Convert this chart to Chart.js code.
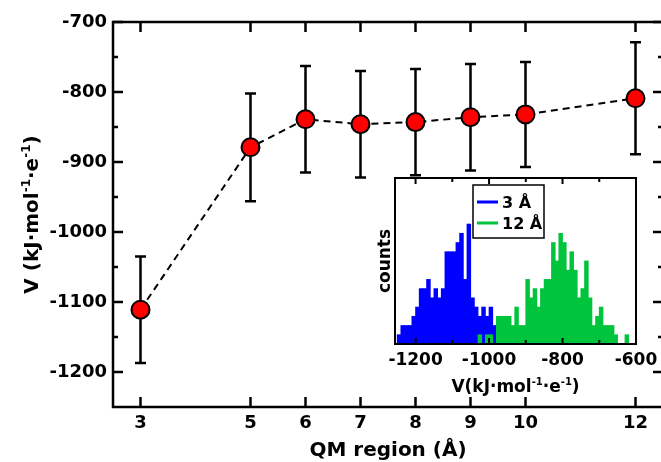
<!DOCTYPE html>
<html>
<head>
<meta charset="utf-8">
<script src="https://cdn.jsdelivr.net/npm/chart.js@4.4.0/dist/chart.umd.min.js"></script>
<style>
  html, body { margin: 0; padding: 0; background: #fff; overflow: hidden; }
  #wrap { position: relative; width: 661px; height: 462px; overflow: hidden; }
  #mainChart { position: absolute; left: 0; top: 0; }
  #insetChart { position: absolute; left: 365px; top: 172px; }
</style>
</head>
<body>
<div id="wrap">
  <canvas id="mainChart" width="674" height="462"></canvas>
  <canvas id="insetChart" width="300" height="228"></canvas>
</div>
<script>
// QM region radius (Å) against the averaged potential and its spread
const qmRegion = [3, 5, 6, 7, 8, 9, 10, 12];
const potential = [-1111, -879, -839, -846, -843, -836, -832, -809];
const potentialErr = [76, 77, 76, 76, 76, 76, 75, 80];
const xTicks = [3, 5, 6, 7, 8, 9, 10, 12];
const yTicks = [-700, -800, -900, -1000, -1100, -1200];
const yMinorTicks = [-750, -850, -950, -1050, -1150];

// histograms of V for the 3 Å and 12 Å regions, 10 kJ/mol bins
const binWidth = 10;
const counts3Start = -1250;
const counts3 = [1, 2, 2, 2, 3, 4, 6, 6, 7, 5, 6, 5, 6, 10, 10, 10, 11, 12, 7, 13,
                 5, 4, 3, 4, 3, 4, 2, 2, 1, 1];
const counts12Start = -1030;
const counts12 = [1, 0, 1, 1, 0, 3, 3, 3, 3, 2, 4, 2, 2, 7, 5, 6, 4, 6, 7, 7,
                  11, 9, 12, 11, 8, 10, 8, 5, 6, 9, 5, 2, 3, 4, 2, 2, 2, 1, 0, 0, 1];
const insetTicks = [-1200, -1000, -800, -600];
const insetMinorTicks = [-1100, -900, -700];

const FONT = '"DejaVu Sans", sans-serif';
const BLUE = '#0000ff';
const GREEN = '#00c43c';

// plain integers, no thousands separator
const plain = v => String(v);

// text with superscript pieces, centred on (cx, cy); rotated reads bottom-to-top
function drawRich(ctx, parts, size, cx, cy, rotate) {
  const supSize = Math.round(size * 0.6);
  ctx.save();
  ctx.translate(cx, cy);
  if (rotate) ctx.rotate(-Math.PI / 2);
  ctx.fillStyle = '#000';
  ctx.textBaseline = 'alphabetic';
  ctx.textAlign = 'left';
  let total = 0;
  parts.forEach(p => {
    ctx.font = `bold ${p.sup ? supSize : size}px ${FONT}`;
    p.w = ctx.measureText(p.text).width;
    total += p.w;
  });
  let x = -total / 2;
  parts.forEach(p => {
    ctx.font = `bold ${p.sup ? supSize : size}px ${FONT}`;
    ctx.fillText(p.text, x, p.sup ? -size * 0.42 : 0);
    x += p.w;
  });
  ctx.restore();
}

// closed frame with inward ticks on all four sides
function boxFrame(o) {
  return {
    id: 'boxFrame',
    afterDatasetsDraw(chart) {
      const { ctx, chartArea: a, scales: { x, y } } = chart;
      ctx.save();
      ctx.strokeStyle = '#000';
      ctx.lineWidth = o.lineWidth;
      ctx.lineCap = 'butt';
      ctx.beginPath();
      const xt = (vals, len) => vals.forEach(v => {
        const px = x.getPixelForValue(v);
        ctx.moveTo(px, a.bottom); ctx.lineTo(px, a.bottom - len);
        ctx.moveTo(px, a.top); ctx.lineTo(px, a.top + len);
      });
      const yt = (vals, len) => vals.forEach(v => {
        const py = y.getPixelForValue(v);
        ctx.moveTo(a.left, py); ctx.lineTo(a.left + len, py);
        ctx.moveTo(a.right, py); ctx.lineTo(a.right - len, py);
      });
      xt(o.xMajor || [], o.major);
      xt(o.xMinor || [], o.minor);
      yt(o.yMajor || [], o.major);
      yt(o.yMinor || [], o.minor);
      ctx.stroke();
      ctx.strokeRect(a.left, a.top, a.right - a.left, a.bottom - a.top);
      ctx.restore();
    }
  };
}

const errorBars = {
  id: 'errorBars',
  beforeDatasetsDraw(chart) {
    const { ctx, scales: { x, y } } = chart;
    ctx.save();
    ctx.strokeStyle = '#000';
    ctx.lineWidth = 2.5;
    ctx.beginPath();
    qmRegion.forEach((q, i) => {
      const px = x.getPixelForValue(q);
      const top = y.getPixelForValue(potential[i] + potentialErr[i]);
      const bot = y.getPixelForValue(potential[i] - potentialErr[i]);
      ctx.moveTo(px, top); ctx.lineTo(px, bot);
      ctx.moveTo(px - 5.5, top); ctx.lineTo(px + 5.5, top);
      ctx.moveTo(px - 5.5, bot); ctx.lineTo(px + 5.5, bot);
    });
    ctx.stroke();
    ctx.restore();
  }
};

const mainTitles = {
  id: 'mainTitles',
  afterDraw(chart) {
    const ctx = chart.ctx;
    const a = chart.chartArea;
    drawRich(ctx, [
      { text: 'V (kJ·mol' }, { text: '-1', sup: true },
      { text: '·e' }, { text: '-1', sup: true }, { text: ')' }
    ], 20, 38, (a.top + a.bottom) / 2, true);
    drawRich(ctx, [{ text: 'QM region (Å)' }], 20, (a.left + a.right) / 2, 456, false);
  }
};

const tickFont = { family: FONT, size: 18, weight: 'bold' };

new Chart(document.getElementById('mainChart'), {
  type: 'line',
  data: {
    datasets: [{
      data: qmRegion.map((q, i) => ({ x: q, y: potential[i] })),
      borderColor: '#000',
      borderWidth: 2,
      borderDash: [7, 5],
      tension: 0,
      pointRadius: 9,
      pointBackgroundColor: '#ff0000',
      pointBorderColor: '#000',
      pointBorderWidth: 2
    }]
  },
  options: {
    responsive: false,
    animation: false,
    devicePixelRatio: 1,
    layout: { padding: { top: 22, right: 3, left: 0, bottom: 0 } },
    plugins: { legend: { display: false }, tooltip: { enabled: false } },
    scales: {
      x: {
        type: 'linear', min: 2.5, max: 12.5,
        afterBuildTicks: s => { s.ticks = xTicks.map(v => ({ value: v })); },
        afterFit: s => { s.height = 55; },
        grid: { display: false, drawTicks: false },
        border: { display: false },
        ticks: { color: '#000', font: tickFont, padding: 6, maxRotation: 0, autoSkip: false,
                 callback: plain }
      },
      y: {
        type: 'linear', min: -1250, max: -700,
        afterBuildTicks: s => { s.ticks = yTicks.map(v => ({ value: v })); },
        afterFit: s => { s.width = 113; },
        grid: { display: false, drawTicks: false },
        border: { display: false },
        ticks: { color: '#000', font: tickFont, padding: 6, callback: plain }
      }
    }
  },
  plugins: [errorBars, boxFrame({
    lineWidth: 2.5, major: 10, minor: 5,
    xMajor: xTicks, yMajor: yTicks, yMinor: yMinorTicks
  }), mainTitles]
});

const insetDecor = {
  id: 'insetDecor',
  afterDraw(chart) {
    const ctx = chart.ctx;
    const a = chart.chartArea;
    // legend box
    ctx.save();
    ctx.strokeStyle = '#000';
    ctx.lineWidth = 1.5;
    ctx.strokeRect(108, 13, 71, 53);
    const rows = [
      { label: '3 Å', color: BLUE, y: 30 },
      { label: '12 Å', color: GREEN, y: 51 }
    ];
    ctx.font = `bold 16px ${FONT}`;
    ctx.textBaseline = 'alphabetic';
    rows.forEach(r => {
      ctx.strokeStyle = r.color;
      ctx.lineWidth = 3;
      ctx.beginPath();
      ctx.moveTo(112, r.y); ctx.lineTo(133, r.y);
      ctx.stroke();
      ctx.fillStyle = '#000';
      ctx.fillText(r.label, 137, r.y + 6);
    });
    ctx.restore();
    drawRich(ctx, [{ text: 'counts' }], 17, 25, (a.top + a.bottom) / 2, true);
    drawRich(ctx, [
      { text: 'V(kJ·mol' }, { text: '-1', sup: true },
      { text: '·e' }, { text: '-1', sup: true }, { text: ')' }
    ], 17, (a.left + a.right) / 2, 220, false);
  }
};

const toBins = (counts, start) =>
  counts.map((c, i) => ({ x: start + binWidth * (i + 0.5), y: c }));

const barStyle = { grouped: false, barPercentage: 1, categoryPercentage: 1,
                   borderWidth: 0, inflateAmount: 0.4 };

new Chart(document.getElementById('insetChart'), {
  type: 'bar',
  data: {
    datasets: [
      { label: '3 Å', data: toBins(counts3, counts3Start), backgroundColor: BLUE,
        order: 2, ...barStyle },
      { label: '12 Å', data: toBins(counts12, counts12Start), backgroundColor: GREEN,
        order: 1, ...barStyle }
    ]
  },
  options: {
    responsive: false,
    animation: false,
    devicePixelRatio: 1,
    layout: { padding: { top: 6, right: 29, left: 30, bottom: 0 } },
    plugins: { legend: { display: false }, tooltip: { enabled: false } },
    scales: {
      x: {
        type: 'linear', min: -1256, max: -600, offset: false,
        afterBuildTicks: s => { s.ticks = insetTicks.map(v => ({ value: v })); },
        afterFit: s => { s.height = 56; },
        grid: { display: false, drawTicks: false },
        border: { display: false },
        ticks: { color: '#000', font: { family: FONT, size: 17, weight: 'bold' },
                 padding: 6, maxRotation: 0, autoSkip: false, callback: plain }
      },
      y: { min: 0, max: 18, display: false }
    }
  },
  plugins: [boxFrame({
    lineWidth: 2, major: 6, minor: 4,
    xMajor: insetTicks, xMinor: insetMinorTicks
  }), insetDecor]
});
</script>
</body>
</html>
